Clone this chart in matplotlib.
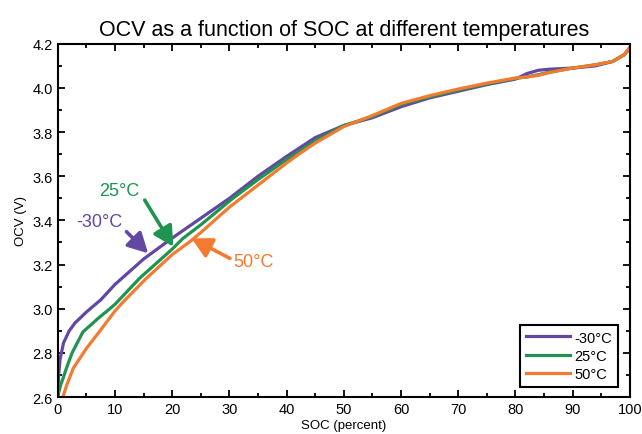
import matplotlib
matplotlib.use("Agg")
import matplotlib.pyplot as plt
from matplotlib.ticker import MultipleLocator

plt.rcParams['font.family'] = ['Liberation Sans', 'DejaVu Sans']

# OCV vs SOC
soc_m30 = [0, 0.15, 0.4, 1, 2, 3, 5, 7.5, 10, 15, 20, 25, 30, 35, 40, 45, 50, 55, 60,
           65, 70, 75, 80, 82, 84, 86, 90, 94, 97, 99, 100]
ocv_m30 = [2.60, 2.70, 2.77, 2.845, 2.90, 2.935, 2.985, 3.04, 3.11, 3.225, 3.32, 3.41,
           3.50, 3.60, 3.69, 3.775, 3.83, 3.865, 3.915, 3.955, 3.985, 4.015, 4.04, 4.065,
           4.08, 4.085, 4.09, 4.10, 4.12, 4.15, 4.18]

soc_25 = [0, 0.2, 0.5, 1, 1.5, 2.5, 4.4, 7, 9.1, 10, 14.3, 20, 21.9, 25, 30.6, 35, 39.4,
          45, 50, 55, 60, 65, 70, 75, 80, 82, 84, 86, 90, 94, 97, 99, 100]
ocv_25 = [2.60, 2.625, 2.655, 2.69, 2.73, 2.80, 2.895, 2.955, 3.00, 3.02, 3.138, 3.27,
          3.319, 3.38, 3.50, 3.585, 3.665, 3.76, 3.83, 3.87, 3.925, 3.96, 3.99, 4.018,
          4.043, 4.05, 4.06, 4.072, 4.09, 4.105, 4.12, 4.15, 4.18]

soc_50 = [0.9, 1.5, 2.7, 5, 7.3, 10, 11.4, 15.5, 20, 23.1, 25, 30, 35, 40, 42.3, 45,
          50, 55, 60, 65, 70, 75, 80, 82, 84, 86, 90, 94, 97, 99, 100]
ocv_50 = [2.60, 2.65, 2.73, 2.82, 2.897, 2.99, 3.03, 3.138, 3.245, 3.304, 3.345, 3.46,
          3.56, 3.66, 3.703, 3.75, 3.825, 3.875, 3.93, 3.965, 3.995, 4.022, 4.045,
          4.05, 4.057, 4.07, 4.09, 4.105, 4.12, 4.15, 4.185]

labels = ['-30°C', '25°C', '50°C']
colors = ['#6447a3', '#1e9450', '#f47a30']

fig = plt.figure(figsize=(6.42, 4.35), dpi=100)
ax = fig.add_axes([0.090, 0.085, 0.891, 0.812])

ax.plot(soc_m30, ocv_m30, color=colors[0], lw=2.3, label=labels[0])
ax.plot(soc_25, ocv_25, color=colors[1], lw=2.3, label=labels[1])
ax.plot(soc_50, ocv_50, color=colors[2], lw=2.3, label=labels[2])

ax.set_xlim(0, 100)
ax.set_ylim(2.6, 4.2)
ax.xaxis.set_major_locator(MultipleLocator(10))
ax.xaxis.set_minor_locator(MultipleLocator(5))
ax.yaxis.set_major_locator(MultipleLocator(0.2))
ax.yaxis.set_minor_locator(MultipleLocator(0.1))
ax.yaxis.set_major_formatter(plt.FormatStrFormatter('%.1f'))
ax.tick_params(which='both', direction='in', top=True, right=True, width=1.3)
ax.tick_params(which='major', length=5, labelsize=10.5)
ax.tick_params(which='minor', length=3)
for s in ax.spines.values():
    s.set_linewidth(1.5)

ax.set_xlabel('SOC (percent)', fontsize=9.5, labelpad=2)
ax.set_ylabel('OCV (V)', fontsize=9.5)
ax.set_title('OCV as a function of SOC at different temperatures', fontsize=15.5, pad=6)

# arrows with labels
arrow = '-|>,head_length=0.6,head_width=0.32'


def pointer(tip, tail, txt, at, c):
    ax.annotate('', xy=tip, xytext=tail,
                arrowprops=dict(arrowstyle=arrow, lw=2.6, color=c, mutation_scale=20,
                                shrinkA=0, shrinkB=0))
    ax.text(at[0], at[1], txt, color=c, fontsize=13, ha='center', va='center')


pointer((15.8, 3.251), (12.0, 3.349), labels[0], (7.2, 3.395), colors[0])
pointer((20.2, 3.281), (15.2, 3.492), labels[1], (10.8, 3.534), colors[1])
pointer((23.4, 3.319), (30.1, 3.228), labels[2], (34.3, 3.213), colors[2])

leg = ax.legend(loc='lower right', bbox_to_anchor=(0.979, 0.028), borderaxespad=0,
                fontsize=10.5, fancybox=False, framealpha=1, edgecolor='black',
                handlelength=3.0, handletextpad=0.3, labelspacing=0.3,
                borderpad=0.4)
leg.get_frame().set_linewidth(1.5)

fig.savefig('out.png', dpi=100)
